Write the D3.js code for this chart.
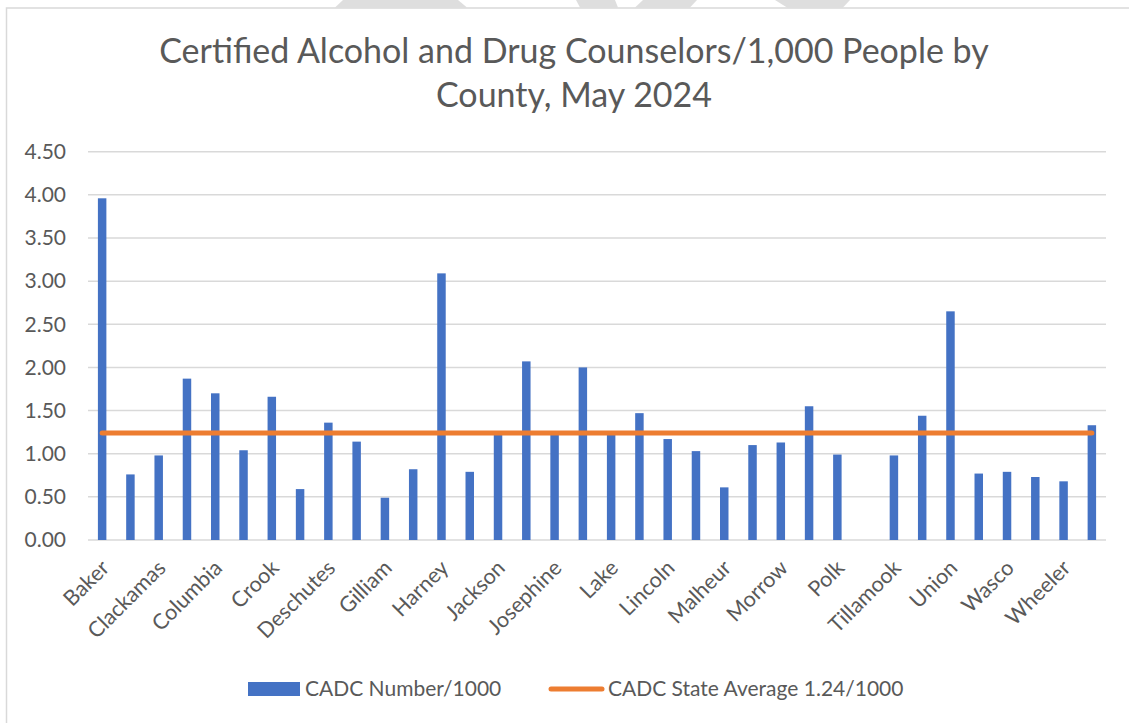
<!DOCTYPE html>
<html>
<head>
  <meta charset="UTF-8">
  <title>CADC per 1,000 people by county</title>
  <style>
    body { margin: 0; background: #fff; }
    svg text { font-family: Lato, 'Open Sans', sans-serif; fill: #595959; }
    .grid line { stroke: #d9d9d9; stroke-width: 1.5; }
    .ytick { font-size: 21px; text-anchor: end; }
    .xlabel { font-size: 21.5px; text-anchor: end; }
    .legend text { font-size: 21px; }
  </style>
</head>
<body>
  <script src="https://d3js.org/d3.v7.min.js"></script>
  <script>
    var counties = ["Baker", "Benton", "Clackamas", "Clatsop", "Columbia", "Coos", "Crook", "Curry",
      "Deschutes", "Douglas", "Gilliam", "Grant", "Harney", "Hood River", "Jackson", "Jefferson",
      "Josephine", "Klamath", "Lake", "Lane", "Lincoln", "Linn", "Malheur", "Marion",
      "Morrow", "Multnomah", "Polk", "Sherman", "Tillamook", "Umatilla", "Union", "Wallowa",
      "Wasco", "Washington", "Wheeler", "Yamhill"];
    var cadcPer1000 = [3.96, 0.76, 0.98, 1.87, 1.70, 1.04, 1.66, 0.59,
      1.36, 1.14, 0.49, 0.82, 3.09, 0.79, 1.22, 2.07,
      1.22, 2.00, 1.22, 1.47, 1.17, 1.03, 0.61, 1.10,
      1.13, 1.55, 0.99, 0, 0.98, 1.44, 2.65, 0.77,
      0.79, 0.73, 0.68, 1.33];
    var stateAverage = 1.24;
    var yTicks = [0, 0.5, 1, 1.5, 2, 2.5, 3, 3.5, 4, 4.5];
    var titleLines = ["Certified Alcohol and Drug Counselors/1,000 People by", "County, May 2024"];
    var barLabel = "CADC Number/1000";
    var lineLabel = "CADC State Average 1.24/1000";

    var width = 1129, height = 723;
    var blue = "#4472c4", orange = "#ed7d31";

    var svg = d3.select("body").append("svg")
        .attr("width", width)
        .attr("height", height);

    // bits of the shape sitting behind the chart, cut off at the top edge
    var backShapes = [
      [[343, 0], [458, 0], [467, 7.5], [335, 7.5]],
      [[576, 0], [615, 0], [618, 7.5], [580, 7.5]],
      [[643, 0], [697, 0], [690, 7.5], [635, 7.5]],
      [[775, 0], [850, 0], [843, 7.5], [787, 7.5]]
    ];
    svg.selectAll("polygon.back").data(backShapes)
      .enter().append("polygon")
        .attr("class", "back")
        .attr("points", function(d) { return d.join(" "); })
        .attr("fill", "#dedede");

    svg.append("rect")
        .attr("x", 6.5).attr("y", 8)
        .attr("width", 1300).attr("height", 900)
        .attr("fill", "#fff")
        .attr("stroke", "#d9d9d9")
        .attr("stroke-width", 1.5);

    var x = d3.scaleBand()
        .domain(counties)
        .range([88, 1106])
        .paddingInner(0.7)
        .paddingOuter(0.35);
    var y = d3.scaleLinear().domain([0, 4.5]).range([540, 151.7]);

    // title
    svg.selectAll("text.title").data(titleLines)
      .enter().append("text")
        .attr("class", "title")
        .attr("x", 574)
        .attr("y", function(d, i) { return 63 + 44 * i; })
        .attr("text-anchor", "middle")
        .style("font-size", "34px")
        .text(function(d) { return d; });

    // gridlines
    svg.append("g").attr("class", "grid")
      .selectAll("line").data(yTicks)
      .enter().append("line")
        .attr("x1", 88).attr("x2", 1106)
        .attr("y1", function(d) { return y(d); })
        .attr("y2", function(d) { return y(d); });

    svg.append("g")
      .selectAll("text").data(yTicks)
      .enter().append("text")
        .attr("class", "ytick")
        .attr("x", 66)
        .attr("y", function(d) { return y(d); })
        .attr("dy", "0.35em")
        .text(function(d) { return d3.format(".2f")(d); });

    // bars
    svg.append("g")
      .selectAll("rect").data(counties)
      .enter().append("rect")
        .attr("x", function(d) { return x(d); })
        .attr("width", x.bandwidth())
        .attr("y", function(d, i) { return y(cadcPer1000[i]); })
        .attr("height", function(d, i) { return y(0) - y(cadcPer1000[i]); })
        .attr("fill", blue);

    // state average line
    var line = d3.line()
        .x(function(d) { return x(d) + x.bandwidth() / 2; })
        .y(function() { return y(stateAverage); });
    svg.append("path")
        .datum(counties)
        .attr("d", line)
        .attr("fill", "none")
        .attr("stroke", orange)
        .attr("stroke-width", 5)
        .attr("stroke-linecap", "round");

    // category labels, every other one
    svg.append("g")
      .selectAll("text").data(counties.filter(function(d, i) { return i % 2 === 0; }))
      .enter().append("text")
        .attr("class", "xlabel")
        .attr("transform", function(d) {
          return "translate(" + (x(d) + x.bandwidth() / 2 + 3) + ",564) rotate(-45)";
        })
        .attr("dy", "0.35em")
        .text(function(d) { return d; });

    // legend
    var legend = svg.append("g").attr("class", "legend");
    legend.append("rect")
        .attr("x", 248).attr("y", 682)
        .attr("width", 52).attr("height", 14)
        .attr("fill", blue);
    legend.append("text")
        .attr("x", 305).attr("y", 696)
        .text(barLabel);
    legend.append("line")
        .attr("x1", 551).attr("x2", 602)
        .attr("y1", 689).attr("y2", 689)
        .attr("stroke", orange)
        .attr("stroke-width", 5)
        .attr("stroke-linecap", "round");
    legend.append("text")
        .attr("x", 608).attr("y", 696)
        .text(lineLabel);
  </script>
</body>
</html>
